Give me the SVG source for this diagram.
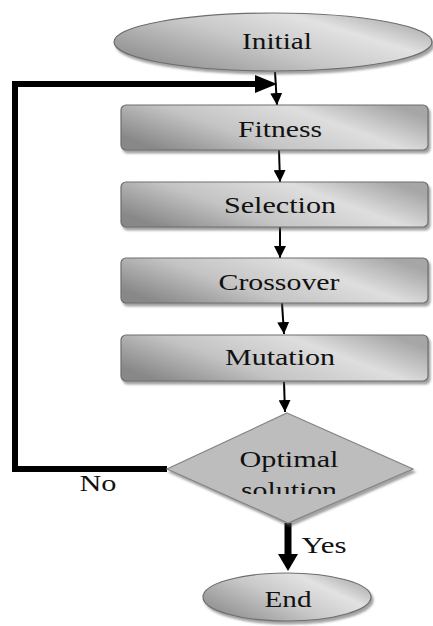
<svg xmlns="http://www.w3.org/2000/svg" width="433" height="626" viewBox="0 0 433 626">
<style>
.lbl{font-family:"Liberation Serif","Times New Roman",serif;font-size:24px;fill:#111;text-anchor:middle}
.thin{stroke:#000;stroke-width:2;fill:none}
.thick{stroke:#000;stroke-width:6;fill:none;stroke-linejoin:miter}
.box{fill:url(#gBox);stroke:#6e6e6e;stroke-width:1.2;filter:url(#sh)}
.ell{fill:url(#gEll);stroke:#6e6e6e;stroke-width:1.2;filter:url(#sh)}
</style>
<defs>
<linearGradient id="gBox" x1="0" y1="0.7" x2="1" y2="0.3">
<stop offset="0" stop-color="#888"/>
<stop offset="0.35" stop-color="#c4c4c4"/>
<stop offset="0.7" stop-color="#dedede"/>
<stop offset="1" stop-color="#a6a6a6"/>
</linearGradient>
<linearGradient id="gEll" x1="0" y1="0.8" x2="1" y2="0.2">
<stop offset="0" stop-color="#8c8c8c"/>
<stop offset="0.45" stop-color="#c8c8c8"/>
<stop offset="0.75" stop-color="#e2e2e2"/>
<stop offset="1" stop-color="#a8a8a8"/>
</linearGradient>
<filter id="sh" x="-10%" y="-20%" width="120%" height="150%">
<feDropShadow dx="2" dy="3" stdDeviation="1.2" flood-color="#555" flood-opacity="0.55"/>
</filter>
<marker id="ah" viewBox="0 0 12 12" refX="12" refY="6" markerWidth="12" markerHeight="12" markerUnits="userSpaceOnUse" orient="auto">
<path d="M0,0 L12,6 L0,12 z" fill="#000"/>
</marker>
<clipPath id="clipSol"><rect x="0" y="0" width="433" height="494"/></clipPath>
</defs>

<g id="connectors">
<line class="thin" x1="275" y1="72" x2="277" y2="105" marker-end="url(#ah)"/>
<line class="thin" x1="279" y1="150" x2="280" y2="182" marker-end="url(#ah)"/>
<line class="thin" x1="280" y1="227" x2="280" y2="258" marker-end="url(#ah)"/>
<line class="thin" x1="282" y1="303" x2="284" y2="334" marker-end="url(#ah)"/>
<line class="thin" x1="284" y1="382" x2="285" y2="412" marker-end="url(#ah)"/>
<polyline class="thick" points="167,469 15,469 15,84 256,84"/>
<path d="M255,75 L277,84 L255,93 z" fill="#000"/>
<line class="thick" x1="288" y1="523" x2="288" y2="556" style="stroke-width:7"/>
<path d="M278,554 L298,554 L288,571 z" fill="#000"/>
<text class="lbl" x="98" y="491" textLength="37" lengthAdjust="spacingAndGlyphs">No</text>
<text class="lbl" x="324" y="553" textLength="45" lengthAdjust="spacingAndGlyphs">Yes</text>
</g>

<g id="initial">
<ellipse class="ell" cx="273" cy="42" rx="159" ry="29"/>
<text class="lbl" x="277" y="49" textLength="70" lengthAdjust="spacingAndGlyphs">Initial</text>
</g>
<g id="fitness">
<rect class="box" x="121" y="105" width="307" height="45" rx="5"/>
<text class="lbl" x="280" y="137" textLength="84" lengthAdjust="spacingAndGlyphs">Fitness</text>
</g>
<g id="selection">
<rect class="box" x="121" y="182" width="307" height="45" rx="5"/>
<text class="lbl" x="280" y="213" textLength="112" lengthAdjust="spacingAndGlyphs">Selection</text>
</g>
<g id="crossover">
<rect class="box" x="121" y="258" width="307" height="45" rx="5"/>
<text class="lbl" x="279" y="290" textLength="121" lengthAdjust="spacingAndGlyphs">Crossover</text>
</g>
<g id="mutation">
<rect class="box" x="121" y="335" width="307" height="46" rx="5"/>
<text class="lbl" x="280" y="365" textLength="110" lengthAdjust="spacingAndGlyphs">Mutation</text>
</g>
<g id="optimal">
<polygon points="287,413 413,469 288,523 167,469" fill="#bdbdbd" stroke="#858585" stroke-width="1.2" filter="url(#sh)"/>
<text class="lbl" x="289" y="467" textLength="99" lengthAdjust="spacingAndGlyphs">Optimal</text>
<text class="lbl" x="289" y="498" textLength="96" lengthAdjust="spacingAndGlyphs" clip-path="url(#clipSol)">solution</text>
</g>
<g id="end">
<ellipse class="ell" cx="287" cy="597" rx="84" ry="24"/>
<text class="lbl" x="288" y="607" textLength="47" lengthAdjust="spacingAndGlyphs">End</text>
</g>
</svg>
